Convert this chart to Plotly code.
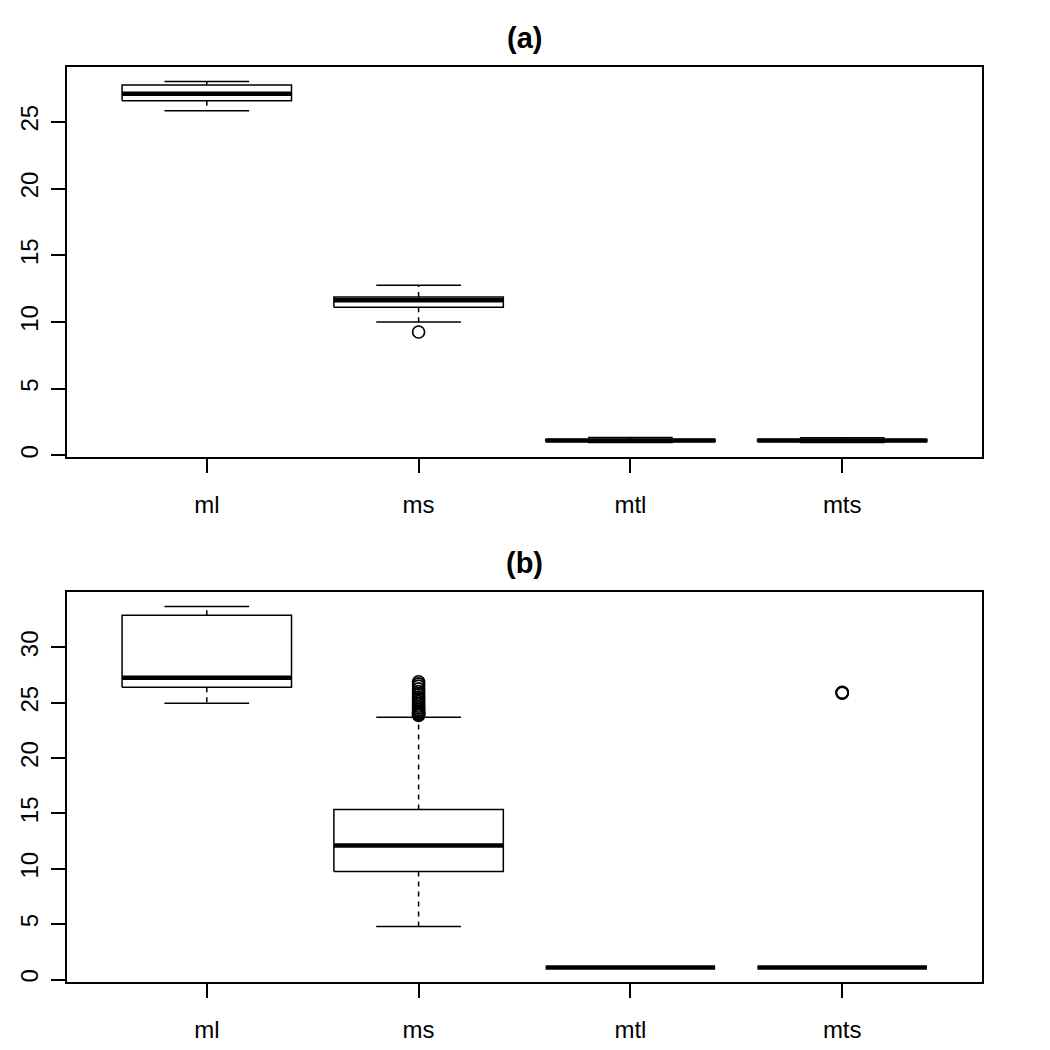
import plotly.graph_objects as go

# ---------------- data ----------------
categories = ["ml", "ms", "mtl", "mts"]

# panel (a): whisker low, Q1, median, Q3, whisker high
a_low = [25.83, 10.0, 0.97, 0.97]
a_q1 = [26.58, 11.10, 1.05, 1.05]
a_med = [27.10, 11.63, 1.12, 1.12]
a_q3 = [27.76, 11.88, 1.20, 1.20]
a_high = [28.02, 12.75, 1.35, 1.33]
a_outliers = [[], [9.25], [], []]

# panel (b)
b_low = [24.96, 4.79, 1.08, 1.08]
b_q1 = [26.40, 9.76, 1.08, 1.08]
b_med = [27.25, 12.10, 1.08, 1.08]
b_q3 = [32.90, 15.36, 1.08, 1.08]
b_high = [33.70, 23.70, 1.08, 1.08]
b_outliers = [
    [],
    [23.85, 23.95, 24.05, 24.15, 24.25, 24.4, 24.55, 24.7, 24.9, 25.1,
     25.3, 25.5, 25.75, 26.0, 26.25, 26.5, 26.7, 26.9],
    [],
    [25.88, 25.92, 25.95],
]

a_ticks = [0, 5, 10, 15, 20, 25]
b_ticks = [0, 5, 10, 15, 20, 25, 30]

# ---------------- style ----------------
FONT = "Liberation Sans, Arial, Helvetica, sans-serif"
BOX_HALF = 0.4
STAPLE_HALF = 0.2
LW = 1.5
MED_LW = 4.5

fig = go.Figure()


def add_panel(low, q1, med, q3, high, outl, xa, ya):
    bx, by, mx, my, wx, wy, sx, sy, ox, oy = ([] for _ in range(10))
    for i in range(len(categories)):
        c = i + 1
        bx += [c - BOX_HALF, c + BOX_HALF, c + BOX_HALF, c - BOX_HALF, c - BOX_HALF, None]
        by += [q1[i], q1[i], q3[i], q3[i], q1[i], None]
        mx += [c - BOX_HALF, c + BOX_HALF, None]
        my += [med[i], med[i], None]
        wx += [c, c, None, c, c, None]
        wy += [q3[i], high[i], None, q1[i], low[i], None]
        sx += [c - STAPLE_HALF, c + STAPLE_HALF, None, c - STAPLE_HALF, c + STAPLE_HALF, None]
        sy += [high[i], high[i], None, low[i], low[i], None]
        for v in outl[i]:
            ox.append(c)
            oy.append(v)
    common = dict(xaxis=xa, yaxis=ya, showlegend=False, hoverinfo="skip")
    fig.add_trace(go.Scatter(x=wx, y=wy, mode="lines",
                             line=dict(color="black", width=LW, dash="5px,5px"), **common))
    fig.add_trace(go.Scatter(x=sx, y=sy, mode="lines",
                             line=dict(color="black", width=LW), **common))
    fig.add_trace(go.Scatter(x=bx, y=by, mode="lines",
                             line=dict(color="black", width=LW), **common))
    fig.add_trace(go.Scatter(x=mx, y=my, mode="lines",
                             line=dict(color="black", width=MED_LW), **common))
    fig.add_trace(go.Scatter(x=ox, y=oy, mode="markers",
                             marker=dict(symbol="circle-open", size=12, color="black",
                                         line=dict(width=1.7, color="black")), **common))


add_panel(a_low, a_q1, a_med, a_q3, a_high, a_outliers, "x", "y")
add_panel(b_low, b_q1, b_med, b_q3, b_high, b_outliers, "x2", "y2")


def yrange(low, high, outl):
    vals = list(low) + list(high) + [v for o in outl for v in o]
    lo, hi = min(vals), max(vals)
    pad = 0.04 * (hi - lo)
    return [lo - pad, hi + pad]


n = len(categories)
xr = [0.5 - 0.04 * n, n + 0.5 + 0.04 * n]

axis_common = dict(
    showline=True, mirror=True, linecolor="black", linewidth=1.5,
    ticks="outside", ticklen=14, tickwidth=1.5, tickcolor="black",
    showgrid=False, zeroline=False, automargin=False,
    tickfont=dict(family=FONT, size=24, color="black"),
)

fig.update_layout(
    width=1050, height=1050,
    margin=dict(l=67, r=68, t=67, b=68),
    plot_bgcolor="white", paper_bgcolor="white",
    xaxis=dict(domain=[0, 1], anchor="y", range=xr,
               tickvals=list(range(1, n + 1)), ticktext=categories,
               ticklabelstandoff=11, **axis_common),
    yaxis=dict(domain=[0.5738, 1], anchor="x", range=yrange(a_low, a_high, a_outliers),
               tickvals=a_ticks, tickangle=-90, ticklabelstandoff=4, **axis_common),
    xaxis2=dict(domain=[0, 1], anchor="y2", range=xr,
                tickvals=list(range(1, n + 1)), ticktext=categories,
                ticklabelstandoff=11, **axis_common),
    yaxis2=dict(domain=[0, 0.4262], anchor="x2", range=yrange(b_low, b_high, b_outliers),
                tickvals=b_ticks, tickangle=-90, ticklabelstandoff=4, **axis_common),
    annotations=[
        dict(text="<b>(a)</b>", x=0.5, y=1.0315, xref="paper", yref="paper",
             xanchor="center", yanchor="middle", showarrow=False,
             font=dict(family=FONT, size=29, color="black")),
        dict(text="<b>(b)</b>", x=0.5, y=0.4577, xref="paper", yref="paper",
             xanchor="center", yanchor="middle", showarrow=False,
             font=dict(family=FONT, size=29, color="black")),
    ],
)

fig.write_html("out.html")
